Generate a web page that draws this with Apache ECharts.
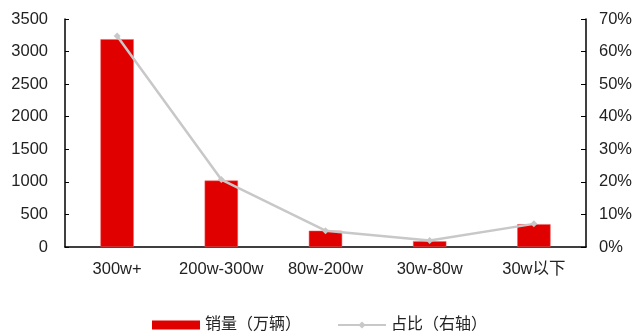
<!DOCTYPE html>
<html><head><meta charset="utf-8">
<script src="https://cdn.jsdelivr.net/npm/echarts@6/dist/echarts.min.js"></script>
<style>html,body{margin:0;padding:0;background:#fff}#c{width:639px;height:334px}</style>
</head><body><div id="c"></div>
<script>
var categories = ['300w+', '200w-300w', '80w-200w', '30w-80w', '30w以下'];
var sales = [3190, 1020, 250, 90, 350];
var share = [64.8, 20.7, 5.0, 2.0, 7.1];
var leftTicks = [0, 3500, 500];
var rightTicks = [0, 70, 10];

var chart = echarts.init(document.getElementById('c'), null, {renderer: 'canvas'});
var numFont = 'Liberation Sans, Arial, sans-serif';
var cjkFont = 'Liberation Sans, Noto Sans CJK SC, sans-serif';
chart.setOption({
  animation: false,
  grid: {left: 65, right: 53, top: 19, bottom: 87, containLabel: false},
  legend: {
    top: 312, left: 'center',
    itemGap: 36,
    textStyle: {fontFamily: cjkFont, fontSize: 16, color: '#222'},
    data: [
      {name: '销量（万辆）', icon: 'rect', itemStyle: {color: '#E00000', borderWidth: 0}},
      {name: '占比（右轴）'}
    ],
    itemWidth: 48, itemHeight: 9
  },
  xAxis: {
    type: 'category', data: categories,
    axisLine: {lineStyle: {color: '#000', width: 1.5}},
    axisTick: {inside: true, length: 5, lineStyle: {color: '#000'}},
    axisLabel: {interval: 0, fontFamily: cjkFont, fontSize: 16.5, color: '#222', margin: 14}
  },
  yAxis: [{
    type: 'value', min: leftTicks[0], max: leftTicks[1], interval: leftTicks[2],
    axisLine: {show: true, lineStyle: {color: '#000', width: 1.5}},
    axisTick: {show: true, inside: true, length: 4, lineStyle: {color: '#000'}},
    splitLine: {show: false},
    axisLabel: {fontFamily: numFont, fontSize: 16.5, color: '#222', margin: 17, formatter: function (v) { return String(v); }}
  }, {
    type: 'value', min: rightTicks[0], max: rightTicks[1], interval: rightTicks[2],
    position: 'right',
    axisLine: {show: true, lineStyle: {color: '#000', width: 1.5}},
    axisTick: {show: true, inside: true, length: 5, lineStyle: {color: '#000'}},
    splitLine: {show: false},
    axisLabel: {fontFamily: numFont, fontSize: 16.5, color: '#222', margin: 13, formatter: '{value}%'}
  }],
  series: [{
    name: '销量（万辆）', type: 'bar', data: sales, barWidth: '32%',
    itemStyle: {color: '#E00000', borderColor: '#F06060', borderWidth: 0.5}
  }, {
    name: '占比（右轴）', type: 'line', yAxisIndex: 1, data: share,
    symbol: 'diamond', symbolSize: 7,
    lineStyle: {color: '#C8C8C8', width: 2.5},
    itemStyle: {color: '#C8C8C8'}
  }]
});
</script></body></html>
